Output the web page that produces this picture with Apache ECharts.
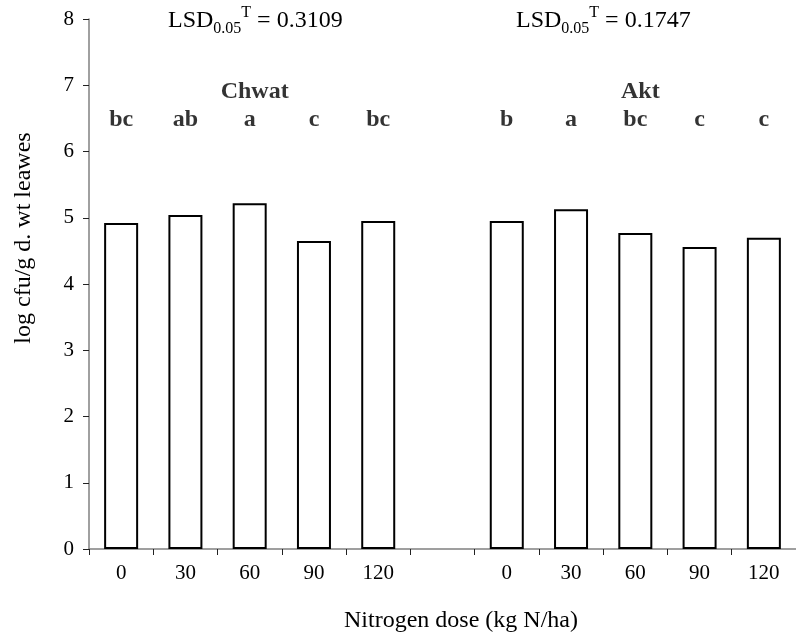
<!DOCTYPE html>
<html>
<head>
<meta charset="utf-8">
<script src="https://cdn.jsdelivr.net/npm/echarts@6/dist/echarts.min.js"></script>
<style>
  html, body { margin: 0; padding: 0; background: #fff; }
  #chart { width: 796px; height: 636px; }
</style>
</head>
<body>
<div id="chart"></div>
<script>
  // nitrogen doses, two cultivars separated by an empty slot
  var doses = ['0', '30', '60', '90', '120'];
  var chwat = [4.92, 5.04, 5.22, 4.65, 4.95];
  var akt = [4.95, 5.13, 4.77, 4.56, 4.70];
  var chwatLetters = ['bc', 'ab', 'a', 'c', 'bc'];
  var aktLetters = ['b', 'a', 'bc', 'c', 'c'];
  var letterLevel = 6.48;
  var groupNames = ['Chwat', 'Akt'];
  var groupLevel = 6.9;
  var lsd = ['0.3109', '0.1747'];

  var font = '"Liberation Serif", "Times New Roman", serif';

  var categories = doses.concat(['']).concat(doses);
  var barData = chwat.concat([null]).concat(akt);
  var letters = chwatLetters.concat(['']).concat(aktLetters);

  var letterData = [];
  letters.forEach(function (l, i) {
    if (l) letterData.push({ value: [i, letterLevel], name: l });
  });
  var groupData = [
    { value: [2, groupLevel], name: groupNames[0] },
    { value: [8, groupLevel], name: groupNames[1] }
  ];

  var chart = echarts.init(document.getElementById('chart'));

  function lsdText(v, x) {
    return {
      type: 'text',
      x: x,
      y: 21,
      style: {
        text: 'LSD{sub|0.05}{sup|T} = ' + v,
        font: '24px ' + font,
        fill: '#000',
        verticalAlign: 'middle',
        rich: {
          sub: { fontSize: 16, fontFamily: font, verticalAlign: 'bottom', lineHeight: 32, padding: [11, 0, 0, 0] },
          sup: { fontSize: 16, fontFamily: font, verticalAlign: 'top', lineHeight: 32, padding: [0, 0, 11, 0] }
        }
      }
    };
  }

  var option = {
    backgroundColor: '#fff',
    animation: false,
    textStyle: { fontFamily: font },
    grid: { left: 89, top: 19, width: 709, bottom: 87 },
    xAxis: {
      type: 'category',
      data: categories,
      axisLine: { lineStyle: { color: '#808080', width: 1.5 } },
      axisTick: { show: true, interval: 0, length: 6, lineStyle: { color: '#222' } },
      axisLabel: { interval: 0, color: '#000', fontSize: 21, margin: 14, fontFamily: font }
    },
    yAxis: {
      type: 'value',
      min: 0,
      max: 8,
      interval: 1,
      axisLine: { show: true, lineStyle: { color: '#808080', width: 1.5 } },
      axisTick: { show: true, length: 6, lineStyle: { color: '#222' } },
      axisLabel: { color: '#000', fontSize: 21, margin: 15, fontFamily: font },
      splitLine: { show: false }
    },
    graphic: [
      lsdText(lsd[0], 168),
      lsdText(lsd[1], 516),
      {
        type: 'text',
        x: 24,
        y: 238,
        rotation: Math.PI / 2,
        style: {
          text: 'log cfu/g d. wt leawes',
          font: '24px ' + font,
          fill: '#000',
          align: 'center',
          verticalAlign: 'middle'
        }
      },
      {
        type: 'text',
        x: 461,
        y: 621,
        style: {
          text: 'Nitrogen dose (kg N/ha)',
          font: '24px ' + font,
          fill: '#000',
          align: 'center',
          verticalAlign: 'middle'
        }
      }
    ],
    series: [
      {
        type: 'bar',
        data: barData,
        barWidth: 34,
        itemStyle: { color: '#fff', borderColor: '#000', borderWidth: 2 }
      },
      {
        type: 'scatter',
        data: letterData,
        symbolSize: 0,
        label: {
          show: true,
          position: 'inside',
          formatter: '{b}',
          color: '#000',
          fontWeight: 'bold',
          fontSize: 24,
          fontFamily: font
        }
      },
      {
        type: 'scatter',
        data: groupData,
        symbolSize: 0,
        label: {
          show: true,
          position: 'inside',
          offset: [5, 0],
          formatter: '{b}',
          color: '#000',
          fontWeight: 'bold',
          fontSize: 24,
          fontFamily: font
        }
      }
    ]
  };

  chart.setOption(option);
</script>
</body>
</html>
